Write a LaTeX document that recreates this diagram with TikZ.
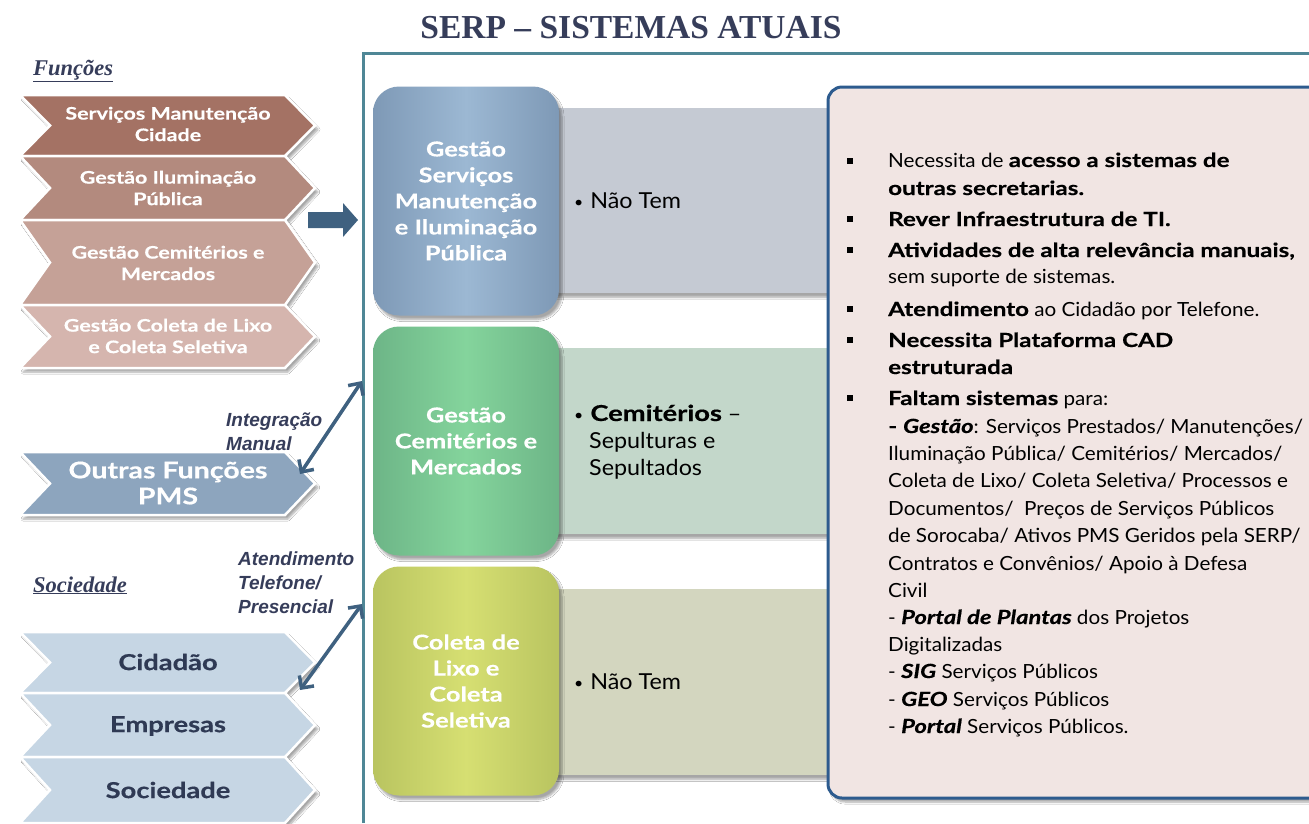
\documentclass[tikz,border=0pt]{standalone}
\usepackage{fontspec}
\setmainfont{Lato}[UprightFeatures={FakeStretch=1.06},BoldFeatures={FakeStretch=1.24,FakeBold=0.4},BoldItalicFeatures={FakeStretch=1.22,FakeBold=0.4}]
\newfontfamily\serifT{Liberation Serif}
\newfontfamily\arialT{Liberation Sans}
\usetikzlibrary{shadows.blur,arrows.meta}
\definecolor{navy}{HTML}{363D5A}
\definecolor{framec}{HTML}{4F8796}
\definecolor{chA}{HTML}{A47264}
\definecolor{chB}{HTML}{B38A7E}
\definecolor{chC}{HTML}{C5A197}
\definecolor{chD}{HTML}{D5B5AE}
\definecolor{outc}{HTML}{8DA5BE}
\definecolor{socc}{HTML}{C6D6E4}
\definecolor{arrc}{HTML}{3F6180}
\definecolor{bAl}{HTML}{7E99B6}
\definecolor{bAm}{HTML}{9CB8D3}
\definecolor{bBl}{HTML}{6DB587}
\definecolor{bBm}{HTML}{84D49C}
\definecolor{bCl}{HTML}{B9C460}
\definecolor{bCm}{HTML}{D6DF72}
\definecolor{rA}{HTML}{C5CAD3}
\definecolor{rB}{HTML}{C3D7CA}
\definecolor{rC}{HTML}{D3D6BF}
\definecolor{panelc}{HTML}{F1E5E3}
\definecolor{panelb}{HTML}{2D5B8E}
\definecolor{soctext}{HTML}{2F3A54}
\newcommand\chevpath[3]{%
  \path[chevshape, fill=#3] (20,#1) -- (285,#1) -- (315,{(#1+#2)/2}) -- (285,#2) -- (20,#2) -- (50,{(#1+#2)/2}) -- cycle;}
\newcommand\rline[3]{\node[rtext] (#1) at (888,#2) {#3};}
\newcommand\sq[2]{\node[sqbox] (#1) at (850,#2) {};}
\newcommand\smallbullet{{\fontsize{15}{15}\selectfont\raisebox{1pt}{\textbullet}}}
\begin{document}
\begin{tikzpicture}[x=1pt,y=-1pt,
  softshadow/.style={blur shadow={shadow xshift=3pt,shadow yshift=-4pt,shadow blur steps=6,shadow opacity=35}},
  chevshape/.style={draw=white,line width=2.5pt,line join=miter,softshadow},
  ctext/.style={text=white,font=\bfseries\fontsize{17.3}{21.5}\selectfont,align=center},
  stext/.style={text=soctext,font=\bfseries\fontsize{22}{26}\selectfont,align=center},
  heading/.style={text=navy,font=\serifT\bfseries\itshape\fontsize{22.5}{26}\selectfont,anchor=base west,inner sep=0pt},
  lab/.style={text=navy,font=\arialT\bfseries\itshape\fontsize{19}{24}\selectfont,align=left,anchor=base west,inner sep=0pt},
  dbl/.style={draw=arrc,line width=3.5pt,{Straight Barb[length=9pt,width=18pt]}-{Straight Barb[length=9pt,width=18pt]}},
  gbox/.style={rounded corners=26pt,minimum width=186pt,inner sep=0pt,softshadow,
     text=white,font=\bfseries\fontsize{20.5}{26}\selectfont,align=center},
  rbox/.style={minimum width=290pt,inner sep=0pt,anchor=north west,softshadow},
  mtext/.style={text=black,font=\fontsize{22}{27}\selectfont,align=left,anchor=base west,inner sep=0pt},
  rtext/.style={text=black,font=\fontsize{19.5}{24}\selectfont,anchor=base west,inner sep=0pt},
  sqbox/.style={fill=black,minimum size=6pt,inner sep=0pt},
]
\useasboundingbox (0,0) rectangle (1309,823);
\fill[white] (0,0) rectangle (1309,823);

% title and frame
\node[text=navy,font=\serifT\bfseries\fontsize{33.5}{36}\selectfont] (title) at (631,28) {SERP – SISTEMAS ATUAIS};
\draw[framec,line width=3pt] (363,823) -- (363,53) -- (1309,53);

% Funcoes
\node[heading] (hf) at (33,75) {\underline{Funções}};
\chevpath{95}{156}{chA}
\chevpath{156}{220}{chB}
\chevpath{220}{305}{chC}
\chevpath{305}{368}{chD}
\node[ctext] (f1) at (168,124) {Serviços Manutenção\\Cidade};
\node[ctext] (f2) at (168,188) {Gestão Iluminação\\Pública};
\node[ctext] (f3) at (168,263) {Gestão Cemitérios e\\Mercados};
\node[ctext] (f4) at (168,336) {Gestão Coleta de Lixo\\e Coleta Seletiva};

% block arrow
\fill[arrc] (308,212) -- (343,212) -- (343,203) -- (358,220) -- (343,237) -- (343,228) -- (308,228) -- cycle;

% outras funcoes
\chevpath{452}{515}{outc}
\node[ctext,font=\bfseries\fontsize{23}{26}\selectfont] (of) at (168,483) {Outras Funções\\PMS};
\node[lab] (il) at (226,450) {Integração\\Manual};
\coordinate (ofa) at (300,474);
\coordinate (fra) at (362,381);
\draw[dbl] (ofa) -- (fra);

% sociedade
\node[heading] (hs) at (33,592) {\underline{Sociedade}};
\node[lab] (al) at (238,613) {Atendimento\\Telefone/\\Presencial};
\chevpath{632}{693}{socc}
\chevpath{693}{757}{socc}
\chevpath{757}{823}{socc}
\node[stext] (s1) at (168,662) {Cidadão};
\node[stext] (s2) at (168,726) {Empresas};
\node[stext] (s3) at (168,790) {Sociedade};
\coordinate (sca) at (300,690);
\coordinate (frb) at (362,604);
\draw[dbl] (sca) -- (frb);

% middle rows
\node[rbox,fill=rA,minimum height=185pt] (r1) at (552,108) {};
\node[rbox,fill=rB,minimum height=186pt] (r2) at (552,348) {};
\node[rbox,fill=rC,minimum height=186pt] (r3) at (552,589) {};
\node[gbox,minimum height=229pt,left color=bAl,right color=bAl,middle color=bAm] (g1) at (466,201) {Gestão\\Serviços\\Manutenção\\e Iluminação\\Pública};
\node[gbox,minimum height=229pt,left color=bBl,right color=bBl,middle color=bBm] (g2) at (466,441) {Gestão\\Cemitérios e\\Mercados};
\node[gbox,minimum height=229pt,left color=bCl,right color=bCl,middle color=bCm] (g3) at (466,681) {Coleta de\\Lixo e\\Coleta\\Seletiva};
\node[mtext] (m1) at (574,208) {\smallbullet\hspace{7pt}Não Tem};
\node[mtext] (m2) at (574,421) {\smallbullet\hspace{7pt}\textbf{Cemitérios} –};
\node[mtext] (m2b) at (589,448) {Sepulturas e};
\node[mtext] (m2c) at (589,475) {Sepultados};
\node[mtext] (m3) at (574,689) {\smallbullet\hspace{7pt}Não Tem};

% right panel
\path[fill=panelc,draw=panelb,line width=3pt,rounded corners=14pt,softshadow] (1330,87) -- (828,87) -- (828,798) -- (1330,798);
\sq{q1}{161}
\sq{q2}{219}
\sq{q3}{250}
\sq{q4}{309}
\sq{q5}{340}
\sq{q6}{398}
\rline{t1}{167}{Necessita de \textbf{acesso a sistemas de}}
\rline{t2}{195}{\textbf{outras secretarias.}}
\rline{t3}{226}{\textbf{Rever Infraestrutura de TI.}}
\rline{t4}{257}{\textbf{Atividades de alta relevância manuais,}}
\rline{t5}{283}{sem suporte de sistemas.}
\rline{t6}{316}{\textbf{Atendimento} ao Cidadão por Telefone.}
\rline{t7}{347}{\textbf{Necessita Plataforma CAD}}
\rline{t8}{374}{\textbf{estruturada}}
\rline{t9}{405}{\textbf{Faltam sistemas} para:}
\rline{t10}{433}{\textbf{- \textit{Gestão}}: Serviços Prestados/ Manutenções/}
\rline{t11}{460}{Iluminação Pública/ Cemitérios/ Mercados/}
\rline{t12}{487}{Coleta de Lixo/ Coleta Seletiva/ Processos e}
\rline{t13}{515}{Documentos/\ \ Preços de Serviços Públicos}
\rline{t14}{542}{de Sorocaba/ Ativos PMS Geridos pela SERP/}
\rline{t15}{570}{Contratos e Convênios/ Apoio à Defesa}
\rline{t16}{597}{Civil}
\rline{t17}{624}{- \textbf{\textit{Portal de Plantas}} dos Projetos}
\rline{t18}{651}{Digitalizadas}
\rline{t19}{678}{- \textbf{\textit{SIG}} Serviços Públicos}
\rline{t20}{706}{- \textbf{\textit{GEO}} Serviços Públicos}
\rline{t21}{733}{- \textbf{\textit{Portal}} Serviços Públicos.}
\end{tikzpicture}
\end{document}
